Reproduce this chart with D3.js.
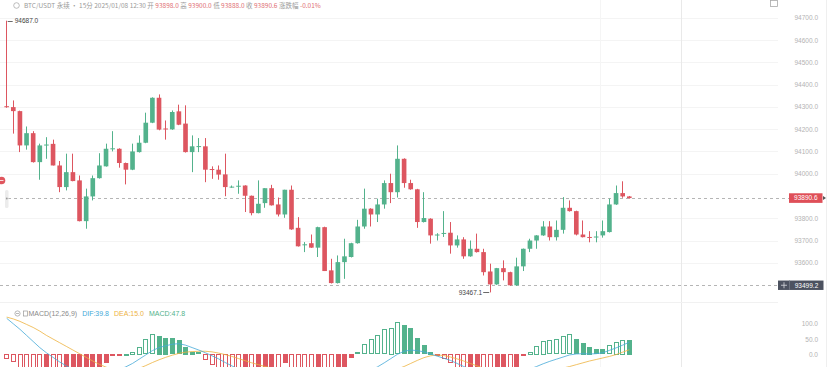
<!DOCTYPE html>
<html>
<head>
<meta charset="utf-8">
<script src="https://cdn.jsdelivr.net/npm/d3@7"></script>
<style>
  html, body { margin: 0; padding: 0; background: #fff; overflow: hidden; }
  svg { display: block; font-family: "Liberation Sans", Arial, sans-serif; }
</style>
</head>
<body>
<div id="chart"></div>
<script>

// candles, oldest first (index 0 is the spike on the left edge)
const opens = [94303, 94299, 94281, 94127, 94182, 94052, 94128, 94134, 94037, 93940,
  94007, 93970, 93787, 93898, 93980, 94033, 94112, 94112, 94048, 94018,
  94097, 94139, 94229, 94341, 94203, 94199, 94280, 94225, 94097, 94122,
  94123, 94021, 94018, 93997, 93940, 93944, 93947, 93901, 93823, 93868,
  93935, 93862, 93817, 93928, 93757, 93681, 93688, 93668, 93760, 93566,
  93509, 93603, 93626, 93688, 93763, 93843, 93817, 93862, 93958, 93917,
  94067, 93958, 93930, 93783, 93798, 93725, 93733, 93735, 93678, 93705,
  93629, 93663, 93648, 93561, 93503, 93576, 93558, 93499, 93584, 93663,
  93700, 93723, 93763, 93715, 93748, 93847, 93832, 93727, 93716, 93716,
  93723, 93738, 93862, 93913, 93898];
const highs = [94687, 94329, 94283, 94212, 94191, 94135, 94164, 94153, 94057, 94090,
  94090, 93992, 93933, 93992, 94092, 94135, 94191, 94114, 94050, 94135,
  94172, 94274, 94343, 94356, 94239, 94284, 94310, 94307, 94172, 94160,
  94160, 94033, 94037, 94090, 93947, 93970, 93948, 93902, 93970, 93935,
  93950, 93893, 93928, 93947, 93805, 93693, 93727, 93762, 93762, 93618,
  93633, 93708, 93690, 93793, 93933, 93845, 93888, 93970, 94000, 94127,
  94069, 93973, 93932, 93917, 93800, 93733, 93832, 93783, 93723, 93715,
  93700, 93731, 93663, 93596, 93577, 93611, 93560, 93623, 93664, 93708,
  93724, 93787, 93787, 93790, 93895, 93880, 93834, 93790, 93742, 93742,
  93790, 93888, 93947, 93966, 93900];
const lows = [94296, 94180, 94097, 94108, 94050, 93973, 94067, 94037, 93917, 93925,
  93966, 93786, 93753, 93880, 93978, 94032, 94100, 94027, 93952, 94016,
  94095, 94137, 94227, 94195, 94153, 94197, 94218, 94095, 94007, 94097,
  93962, 93977, 93973, 93899, 93937, 93910, 93828, 93813, 93822, 93847,
  93857, 93808, 93802, 93748, 93673, 93648, 93667, 93626, 93563, 93507,
  93507, 93528, 93624, 93686, 93753, 93763, 93783, 93843, 93868, 93893,
  93937, 93928, 93757, 93781, 93686, 93700, 93716, 93641, 93668, 93618,
  93627, 93646, 93543, 93467.1, 93501, 93521, 93497, 93496, 93563, 93648,
  93663, 93721, 93700, 93700, 93731, 93830, 93723, 93714, 93692, 93692,
  93713, 93736, 93860, 93892, 93888];
const closes = [94299, 94281, 94127, 94182, 94052, 94127, 94131, 94037, 93940, 94007,
  93967, 93787, 93898, 93980, 94037, 94112, 94114, 94048, 94018, 94100,
  94139, 94229, 94341, 94198, 94200, 94277, 94220, 94097, 94123, 94124,
  94018, 94018, 93996, 93940, 93942, 93946, 93901, 93823, 93865, 93935,
  93858, 93817, 93928, 93750, 93674, 93683, 93668, 93760, 93563, 93509,
  93603, 93629, 93688, 93763, 93843, 93817, 93862, 93958, 93917, 94067,
  93958, 93930, 93783, 93801, 93723, 93727, 93734, 93678, 93705, 93629,
  93663, 93648, 93558, 93503, 93576, 93558, 93499, 93584, 93663, 93700,
  93723, 93763, 93715, 93748, 93847, 93832, 93727, 93715, 93715, 93718,
  93742, 93862, 93913, 93898, 93890.6];

// MACD(12,26,9) pane, one value per candle
const macdHist = [-15, -27, -55, -68, -80, -88, -85, -90, -98, -94,
  -90, -88, -80, -68, -52, -28, -5, -1, 2, 9,
  25, 49, 66, 61, 55, 53, 47, 25, 9, 6,
  -20, -35, -50, -65, -75, -80, -78, -82, -75, -60,
  -55, -58, -28, -45, -62, -70, -75, -68, -80, -95,
  -80, -55, -12, 6, 34, 49, 63, 82, 87, 105,
  96, 85, 52, 30, 8.5, -3, -15, -30, -45, -60,
  -55, -50, -58, -70, -62, -50, -55, -45, -8, 8.5,
  28, 45, 46, 49, 60, 66.5, 49, 38, 25, 17,
  16, 30, 41, 48.5, 47.8];
const difLine = [118, 100, 82, 62, 42, 22, 5, -10, -25, -38,
  -50, -62, -68, -70, -70, -66, -58, -50, -41, -30,
  -16, -2, 12, 22, 28, 33, 35, 30, 22, 14,
  5, -5, -15, -27, -38, -48, -56, -64, -68, -70,
  -72, -74, -70, -74, -80, -86, -90, -92, -98, -106,
  -104, -98, -88, -76, -64, -52, -41, -28, -14, 0,
  10, 14, 12, 8, 1, -6, -13, -20, -30, -40,
  -48, -54, -60, -68, -72, -72, -74, -68, -58, -48,
  -40, -31, -23, -16, -9, -2, 1, 2, 1, 2,
  5, 13, 21, 30, 39.8];
const deaLine = [122, 116, 108, 98, 88, 76, 62, 50, 38, 26,
  14, 2, -10, -22, -33, -42, -50, -54, -56, -54,
  -46, -37, -27, -18, -10, -3, 3, 7, 9, 10,
  10, 8, 4, -1, -7, -14, -21, -28, -34, -40,
  -45, -50, -54, -57, -61, -65, -69, -73, -77, -82,
  -86, -88, -89, -88, -85, -80, -74, -67, -58, -48,
  -40, -30, -20, -11, -5, -2, -4, -9, -15, -22,
  -30, -38, -45, -52, -58, -62, -66, -68, -68, -66,
  -63, -59, -55, -50, -45, -40, -34, -28, -22, -17,
  -12, -7, -1, 7, 15];

// 93900 and 93500 sit under the price / crosshair tags, so they are not labelled
const priceTicks = [94700, 94600, 94500, 94400, 94300, 94200, 94100, 94000, 93800, 93700, 93600];
const macdTicks = [100, 50, 0];
const crossPrice = 93499.2;

const width = 828, height = 367;
const upColor = "#53b28c", downColor = "#dd5660";
const difColor = "#45a9d8", deaColor = "#eeb33f";

const svg = d3.select("#chart").append("svg")
    .attr("width", width)
    .attr("height", height);

const x = d3.scaleLinear().domain([1, 94]).range([13.3, 629.3]);
const step = x(1) - x(0);
const bodyW = step * 0.7;
const y = d3.scaleLinear().domain([93600, 94700]).range([262.8, 17.8]);
const ym = d3.scaleLinear().domain([0, 100]).range([354.3, 323.8]);
const idx = d3.range(opens.length);

const crisp = v => Math.round(v) + 0.5;

// faint grid
svg.append("g")
  .selectAll("line")
  .data(priceTicks)
  .join("line")
    .attr("x1", 0).attr("x2", 778)
    .attr("y1", d => crisp(y(d))).attr("y2", d => crisp(y(d)))
    .attr("stroke", "#f4f4f4");

svg.append("g")
  .selectAll("line")
  .data([600, 681])
  .join("line")
    .attr("x1", d => d + 0.5).attr("x2", d => d + 0.5)
    .attr("y1", 0).attr("y2", height)
    .attr("stroke", (d, i) => i ? "#e9e9e9" : "#f5f5f5");

svg.append("line")
    .attr("x1", 826.5).attr("x2", 826.5)
    .attr("y1", 0).attr("y2", height)
    .attr("stroke", "#efefef");

svg.append("line")
    .attr("x1", 0).attr("x2", 778)
    .attr("y1", 302.5).attr("y2", 302.5)
    .attr("stroke", "#f1f1f1");

// header line
const last = opens.length - 1;
const header = svg.append("text")
    .attr("x", 24).attr("y", 8)
    .attr("font-size", 6.5)
    .attr("font-family", "'Noto Sans CJK SC', 'Liberation Sans', sans-serif")
    .attr("fill", "#9a9a9a");
header.append("tspan").text("BTC/USDT 永续 · 15分 2025/01/08 12:30 ");
[["开", opens[last]], ["高", highs[last]], ["低", lows[last]], ["收", closes[last]]].forEach(([k, v]) => {
  header.append("tspan").text(k + " ");
  header.append("tspan").attr("fill", "#e07075").text(v.toFixed(1) + " ");
});
header.append("tspan").text("涨跌幅 ");
header.append("tspan").attr("fill", "#e07075").text("-0.01%");

svg.append("circle")
    .attr("cx", 16.5).attr("cy", 5.5).attr("r", 2.8)
    .attr("fill", "none").attr("stroke", "#aaa").attr("stroke-width", 0.8);

svg.append("rect")
    .attr("x", 770.5).attr("y", 0.5).attr("width", 7).attr("height", 6)
    .attr("fill", "none").attr("stroke", "#aaa").attr("stroke-width", 0.8);

// right price axis
const yAxis = svg.append("g")
    .attr("transform", "translate(818,0)")
    .call(d3.axisRight(y).tickValues(priceTicks).tickSize(0).tickPadding(0).tickFormat(d => d.toFixed(1)));
yAxis.select(".domain").remove();
yAxis.selectAll("text")
    .attr("text-anchor", "end")
    .attr("font-size", 6.5)
    .attr("fill", "#b3b3b3")
    .attr("font-family", "'Liberation Sans', Arial, sans-serif");

const mAxis = svg.append("g")
    .attr("transform", "translate(818,0)")
    .call(d3.axisRight(ym).tickValues(macdTicks).tickSize(0).tickPadding(0).tickFormat(d => d.toFixed(1)));
mAxis.select(".domain").remove();
mAxis.selectAll("text")
    .attr("text-anchor", "end")
    .attr("font-size", 6.5)
    .attr("fill", "#b3b3b3")
    .attr("font-family", "'Liberation Sans', Arial, sans-serif");

// dashed guide lines: last price and crosshair
svg.append("line")
    .attr("x1", 8).attr("x2", 789)
    .attr("y1", crisp(y(closes[last]))).attr("y2", crisp(y(closes[last])))
    .attr("stroke", "#b5b5b5").attr("stroke-dasharray", "3,3");
svg.append("line")
    .attr("x1", 0).attr("x2", 778)
    .attr("y1", crisp(y(crossPrice))).attr("y2", crisp(y(crossPrice)))
    .attr("stroke", "#b5b5b5").attr("stroke-dasharray", "3,3");

// candles
const candles = svg.append("g")
  .selectAll("g")
  .data(idx)
  .join("g");

candles.append("line")
    .attr("x1", i => crisp(x(i) - 0.5)).attr("x2", i => crisp(x(i) - 0.5))
    .attr("y1", i => y(highs[i])).attr("y2", i => y(lows[i]))
    .attr("stroke", i => closes[i] >= opens[i] ? upColor : downColor)
    .attr("stroke-width", 1);

candles.append("rect")
    .attr("x", i => x(i) - bodyW / 2)
    .attr("y", i => y(Math.max(opens[i], closes[i])))
    .attr("width", bodyW)
    .attr("height", i => Math.max(1, Math.abs(y(opens[i]) - y(closes[i]))))
    .attr("fill", i => closes[i] >= opens[i] ? upColor : downColor);

// max / min annotations
const hiI = d3.maxIndex(highs), loI = d3.minIndex(lows);
svg.append("line")
    .attr("x1", x(hiI) + 1).attr("x2", x(hiI) + 6)
    .attr("y1", crisp(y(highs[hiI]))).attr("y2", crisp(y(highs[hiI])))
    .attr("stroke", "#444").attr("stroke-width", 0.8);
svg.append("text")
    .attr("x", x(hiI) + 8).attr("y", y(highs[hiI]) + 2.3)
    .attr("font-size", 6.5).attr("fill", "#444")
    .text(highs[hiI].toFixed(1));

svg.append("line")
    .attr("x1", x(loI) - 7).attr("x2", x(loI) - 1)
    .attr("y1", crisp(y(lows[loI]))).attr("y2", crisp(y(lows[loI])))
    .attr("stroke", "#444").attr("stroke-width", 0.8);
svg.append("text")
    .attr("x", x(loI) - 8).attr("y", y(lows[loI]) + 2.3)
    .attr("text-anchor", "end")
    .attr("font-size", 6.5).attr("fill", "#444")
    .text(lows[loI].toFixed(1));

// last price tag
const ly = y(closes[last]);
svg.append("rect")
    .attr("x", 789).attr("y", ly - 4.8).attr("width", 33.5).attr("height", 9.6)
    .attr("fill", "#df4f58");
svg.append("path")
    .attr("d", `M823,${ly - 2}L826,${ly}L823,${ly + 2}Z`)
    .attr("fill", "#555");
svg.append("text")
    .attr("x", 805.8).attr("y", ly + 2.3)
    .attr("text-anchor", "middle")
    .attr("font-size", 6.5).attr("fill", "#fff")
    .text(closes[last].toFixed(1));

// crosshair tag
const cy = y(crossPrice);
svg.append("rect")
    .attr("x", 778).attr("y", cy - 4.7).attr("width", 45.5).attr("height", 9.4)
    .attr("fill", "#4c5260");
svg.append("line")
    .attr("x1", 789.5).attr("x2", 789.5).attr("y1", cy - 4.7).attr("y2", cy + 4.7)
    .attr("stroke", "#6d7380");
svg.append("path")
    .attr("d", `M781,${cy}H787M784,${cy - 3}V${cy + 3}`)
    .attr("stroke", "#d8dbe0").attr("stroke-width", 0.8);
svg.append("text")
    .attr("x", 806.5).attr("y", cy + 2.3)
    .attr("text-anchor", "middle")
    .attr("font-size", 6.5).attr("fill", "#fff")
    .text(crossPrice.toFixed(1));

// left edge widgets
svg.append("circle")
    .attr("cx", 1.5).attr("cy", 180.5).attr("r", 3.8)
    .attr("fill", "#e0565e");
svg.append("line")
    .attr("x1", 0).attr("x2", 3.5).attr("y1", 180.5).attr("y2", 180.5)
    .attr("stroke", "#fff").attr("stroke-width", 0.8);
svg.append("rect")
    .attr("x", 5).attr("y", 190).attr("width", 3.5).attr("height", 18).attr("rx", 1.5)
    .attr("fill", "#ececec");
svg.append("circle")
    .attr("cx", 6.8).attr("cy", 198.5).attr("r", 0.9).attr("fill", "#9a9a9a");

// MACD pane
svg.append("clipPath").attr("id", "macdClip")
  .append("rect").attr("x", 0).attr("y", 303).attr("width", 778).attr("height", 64);

const macdG = svg.append("g").attr("clip-path", "url(#macdClip)");

// hollow when the bar grows away from zero, filled when it shrinks
const hollow = i => i === 0 || Math.sign(macdHist[i]) !== Math.sign(macdHist[i - 1]) ||
  Math.abs(macdHist[i]) > Math.abs(macdHist[i - 1]);

macdG.append("g")
  .selectAll("rect")
  .data(idx)
  .join("rect")
    .attr("x", i => Math.round(x(i) - bodyW / 2) + 0.5)
    .attr("y", i => Math.round(Math.min(ym(0), ym(macdHist[i]))) + 0.5)
    .attr("width", Math.round(bodyW) - 1)
    .attr("height", i => Math.max(1, Math.round(Math.abs(ym(macdHist[i]) - ym(0))) - 1))
    .attr("fill", i => hollow(i) ? "#fff" : (macdHist[i] >= 0 ? upColor : downColor))
    .attr("stroke", i => macdHist[i] >= 0 ? upColor : downColor)
    .attr("stroke-width", 1);

const lineGen = arr => d3.line().x(i => x(i)).y(i => ym(arr[i]))(idx);

macdG.append("path")
    .attr("d", lineGen(deaLine))
    .attr("fill", "none").attr("stroke", deaColor).attr("stroke-width", 0.8);
macdG.append("path")
    .attr("d", lineGen(difLine))
    .attr("fill", "none").attr("stroke", difColor).attr("stroke-width", 0.8);

// MACD legend
svg.append("circle")
    .attr("cx", 17.5).attr("cy", 313.5).attr("r", 2.6)
    .attr("fill", "none").attr("stroke", "#999").attr("stroke-width", 0.7);
svg.append("line")
    .attr("x1", 16).attr("x2", 19).attr("y1", 313.5).attr("y2", 313.5)
    .attr("stroke", "#999").attr("stroke-width", 0.7);
svg.append("rect")
    .attr("x", 23.5).attr("y", 311).attr("width", 4).attr("height", 5)
    .attr("fill", "none").attr("stroke", "#999").attr("stroke-width", 0.7);

const legend = svg.append("text")
    .attr("x", 28.5).attr("y", 316)
    .attr("font-size", 7)
    .attr("fill", "#8a8a8a");
legend.append("tspan").text("MACD(12,26,9)");
legend.append("tspan").attr("dx", 5).attr("fill", difColor).text("DIF:" + difLine[last].toFixed(1));
legend.append("tspan").attr("dx", 5).attr("fill", deaColor).text("DEA:" + deaLine[last].toFixed(1));
legend.append("tspan").attr("dx", 5).attr("fill", upColor).text("MACD:" + macdHist[last].toFixed(1));

</script>
</body>
</html>
